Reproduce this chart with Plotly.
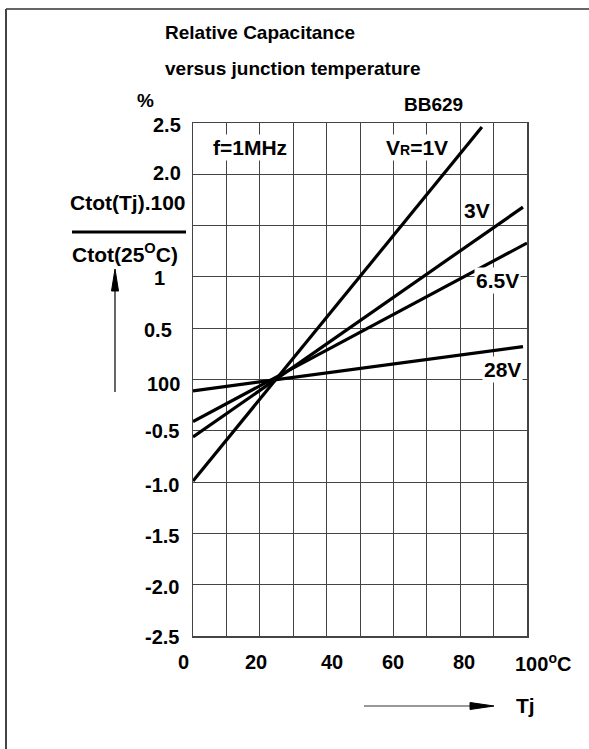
import plotly.graph_objects as go

# ---------------- data ----------------
series_names = ["V<span style='font-size:14px'>R</span>=1V", "3V", "6.5V", "28V"]
vr_1v_tj = [0.0, 86.5]
vr_1v_dc = [-0.99, 2.46]
vr_3v_tj = [0.0, 98.8]
vr_3v_dc = [-0.56, 1.68]
vr_6v5_tj = [0.0, 100.0]
vr_6v5_dc = [-0.41, 1.33]
vr_28v_tj = [0.0, 98.8]
vr_28v_dc = [-0.11, 0.32]

y_tick_vals = [2.5, 2.0, 1.5, 1.0, 0.5, 0.0, -0.5, -1.0, -1.5, -2.0, -2.5]
y_tick_text = ["2.5", "2.0", "", "1", "0.5", "100", "-0.5", "-1.0", "-1.5", "-2.0", "-2.5"]
x_tick_vals = [0, 20, 40, 60, 80, 100]
x_tick_text = ["0", "20", "40", "60", "80", "100<sup>o</sup>C"]

# ---------------- layout geometry ----------------
W, H = 589, 749
L, R, T, B = 193, 527, 123, 636
PW, PH = R - L, B - T


def px(x):
    return (x - L) / PW


def py(y):
    return (B - y) / PH


FONT = "Liberation Sans, Arial, Helvetica, sans-serif"
FS_TICK = 20
FS_LAB = 21
FS_TITLE = 19

fig = go.Figure()
for tj, dc in [(vr_1v_tj, vr_1v_dc), (vr_3v_tj, vr_3v_dc),
               (vr_6v5_tj, vr_6v5_dc), (vr_28v_tj, vr_28v_dc)]:
    fig.add_trace(go.Scatter(x=tj, y=dc, mode="lines",
                             line=dict(color="black", width=3.2),
                             showlegend=False, hoverinfo="skip"))

fig.update_layout(
    width=W, height=H,
    margin=dict(l=L, r=W - R, t=T, b=H - B, pad=0),
    paper_bgcolor="white", plot_bgcolor="white",
    font=dict(family=FONT, size=FS_TICK, color="black", weight="bold"),
    showlegend=False,
)
fig.update_xaxes(range=[0, 100], dtick=10, showgrid=True, gridcolor="#444",
                 gridwidth=1, showline=True, linecolor="#444", linewidth=1.5,
                 mirror=True, showticklabels=False, ticks="", zeroline=False,
                 fixedrange=True)
fig.update_yaxes(range=[-2.5, 2.5], dtick=0.5, showgrid=True, gridcolor="#444",
                 gridwidth=1, showline=True, linecolor="#444", linewidth=1.5,
                 mirror=True, showticklabels=False, ticks="", zeroline=False,
                 fixedrange=True)


def font(size):
    return dict(family=FONT, size=size, color="black", weight="bold")


ann = []
# y tick labels (right edges in px)
y_right_edge = [183, 183, 183, 167, 174, 182, 181, 181, 181, 181, 181]
y_shift = [-2, 1, 0, -1, -2, -4, 0, -3, -3, -2, -1]
for v, t, re, ys in zip(y_tick_vals, y_tick_text, y_right_edge, y_shift):
    if t:
        ann.append(dict(x=px(re), y=v, xref="paper", yref="y", text=t,
                        showarrow=False, xanchor="right", yanchor="middle",
                        yshift=ys, font=font(FS_TICK)))
# x tick labels
x_center_px = [183, 256, 332, 393, 464, 543]
for v, t, cx in zip(x_tick_vals, x_tick_text, x_center_px):
    ann.append(dict(x=px(cx), y=py(662), xref="paper", yref="paper", text=t,
                    showarrow=False, xanchor="center", yanchor="middle",
                    font=font(FS_TICK)))

labels = [
    (163, 33, "Relative Capacitance", "left", FS_TITLE, None),
    (163, 68, "versus junction temperature", "left", FS_TITLE, None),
    (145, 100, "%", "center", FS_TITLE, None),
    (465, 105, "BB629", "right", FS_TITLE, None),
    (188, 202, "Ctot(Tj).100", "right", FS_LAB, None),
    (70, 253, "Ctot(25<sup>O</sup>C)", "left", FS_LAB, None),
    (211, 147, "f=1MHz", "left", FS_LAB, "white"),
    (384, 147, series_names[0], "left", FS_LAB, "white"),
    (462, 210, series_names[1], "left", FS_LAB, "white"),
    (474, 280, series_names[2], "left", FS_LAB, "white"),
    (482, 369, series_names[3], "left", FS_LAB, "white"),
    (514, 705, "Tj", "left", FS_LAB, None),
]
for x0, y0, t, xa, fs, bg in labels:
    d = dict(x=px(x0), y=py(y0), xref="paper", yref="paper", text=t,
             showarrow=False, xanchor=xa, yanchor="middle", font=font(fs))
    if bg:
        d["bgcolor"] = bg
    ann.append(d)
fig.update_layout(annotations=ann)


def white_box(x0, x1, y0, y1):
    return dict(type="rect", xref="paper", yref="paper", layer="between",
                x0=px(x0), x1=px(x1), y0=py(y1), y1=py(y0),
                fillcolor="white", line=dict(width=0))


shapes = [
    # gaps in the grid around the curve labels
    white_box(456, 494, 197, 223),
    white_box(450, 524.5, 265, 293),
    white_box(477, 524.5, 356, 384),
    # outer frame
    dict(type="line", xref="paper", yref="paper", x0=px(6), x1=px(600),
         y0=py(9), y1=py(9), line=dict(color="#666", width=2)),
    dict(type="line", xref="paper", yref="paper", x0=px(6), x1=px(6),
         y0=py(9), y1=py(760), line=dict(color="#444", width=2)),
    # fraction bar
    dict(type="line", xref="paper", yref="paper", x0=px(72), x1=px(186),
         y0=py(232), y1=py(232), line=dict(color="black", width=3)),
    # vertical arrow
    dict(type="line", xref="paper", yref="paper", x0=px(115), x1=px(115),
         y0=py(392), y1=py(285), line=dict(color="black", width=1.2)),
    dict(type="path", xref="paper", yref="paper",
         path=f"M {px(111.5)} {py(291)} L {px(115)} {py(269)} L {px(118.5)} {py(291)} Z",
         fillcolor="black", line=dict(color="black", width=1)),
    # horizontal arrow
    dict(type="line", xref="paper", yref="paper", x0=px(364), x1=px(475),
         y0=py(706), y1=py(706), line=dict(color="#333", width=1.2)),
    dict(type="path", xref="paper", yref="paper",
         path=f"M {px(470)} {py(702.5)} L {px(494)} {py(706)} L {px(470)} {py(709.5)} Z",
         fillcolor="black", line=dict(color="black", width=1)),
]
fig.update_layout(shapes=shapes)

fig.write_html("out.html",
               config={"displayModeBar": False, "staticPlot": True},
               post_script="document.body.style.margin='0';"
                           "document.body.style.overflow='hidden';")
